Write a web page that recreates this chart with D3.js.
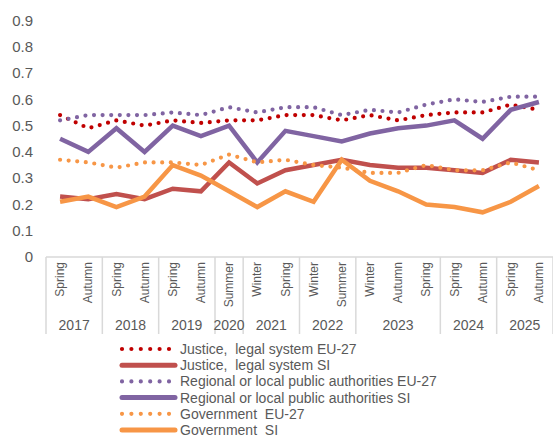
<!DOCTYPE html>
<html>
<head>
<meta charset="utf-8">
<script src="https://cdn.jsdelivr.net/npm/d3@7"></script>
<style>
  html, body { margin: 0; padding: 0; background: #fff; }
  svg { display: block; font-family: "Liberation Sans", Arial, sans-serif; }
</style>
</head>
<body>
<svg id="chart" width="553" height="438"></svg>
<script>
// ---- Data ----
const seasons = ["Spring","Autumn","Spring","Autumn","Spring","Autumn","Summer","Winter","Spring","Winter","Summer","Winter","Autumn","Spring","Spring","Autumn","Spring","Autumn"];
const years   = ["2017","2017","2018","2018","2019","2019","2020","2021","2021","2022","2022","2023","2023","2023","2024","2024","2025","2025"];

const justiceEU  = [0.54,0.49,0.52,0.50,0.52,0.51,0.52,0.52,0.54,0.54,0.52,0.54,0.52,0.54,0.55,0.55,0.58,0.56];
const justiceSI  = [0.23,0.22,0.24,0.22,0.26,0.25,0.36,0.28,0.33,0.35,0.37,0.35,0.34,0.34,0.33,0.32,0.37,0.36];
const regionalEU = [0.52,0.54,0.54,0.54,0.55,0.54,0.57,0.55,0.57,0.57,0.54,0.56,0.55,0.58,0.60,0.59,0.61,0.61];
const regionalSI = [0.45,0.40,0.49,0.40,0.50,0.46,0.50,0.36,0.48,0.46,0.44,0.47,0.49,0.50,0.52,0.45,0.56,0.59];
const govEU      = [0.37,0.36,0.34,0.36,0.36,0.35,0.39,0.36,0.37,0.35,0.34,0.32,0.32,0.35,0.33,0.33,0.36,0.33];
const govSI      = [0.21,0.23,0.19,0.23,0.35,0.31,0.25,0.19,0.25,0.21,0.37,0.29,0.25,0.20,0.19,0.17,0.21,0.27];

const yTicks = [0,0.1,0.2,0.3,0.4,0.5,0.6,0.7,0.8,0.9];

const seriesNames  = ["Justice,  legal system EU-27","Justice,  legal system SI","Regional or local public authorities EU-27","Regional or local public authorities SI","Government  EU-27","Government  SI"];
const seriesValues = [justiceEU, justiceSI, regionalEU, regionalSI, govEU, govSI];
const seriesColors = ["#C00000","#C0504D","#8064A2","#8064A2","#F79646","#F79646"];
const seriesDotted = [true,false,true,false,true,false];

// ---- Layout ----
const svg = d3.select("#chart");
const textColor = "#595959";
const axisColor = "#D9D9D9";
const plotLeft = 46, plotRight = 553, plotTop = 20.5, plotBottom = 257;

const idx = d3.range(seasons.length);
const x = d3.scaleBand().domain(idx).range([plotLeft, plotRight]);
const y = d3.scaleLinear().domain([0, 0.9]).range([plotBottom, plotTop]);

// Y axis (labels only)
const yAxis = d3.axisLeft(y).tickValues(yTicks).tickSize(0).tickPadding(13)
  .tickFormat(d => d === 0 ? "0" : d3.format(".1f")(d));
const gy = svg.append("g").attr("transform", `translate(${plotLeft},0)`).call(yAxis);
gy.select(".domain").remove();
gy.selectAll("text").attr("fill", textColor).style("font-size", "15px")
  .style("font-family", "'Liberation Sans', Arial, sans-serif");

// X axis frame
const axisBottom = 334;
svg.append("line").attr("x1", plotLeft).attr("x2", plotRight).attr("y1", plotBottom).attr("y2", plotBottom)
  .attr("stroke", axisColor).attr("stroke-width", 1.5);

// groups of years
const groups = [];
years.forEach((yr, i) => {
  if (!groups.length || groups[groups.length-1].year !== yr) groups.push({year: yr, start: i, end: i});
  else groups[groups.length-1].end = i;
});
const boundaries = [x(0)].concat(groups.map(g => x(g.end) + x.bandwidth()));
svg.selectAll("line.sep").data(boundaries).enter().append("line")
  .attr("class", "sep")
  .attr("x1", d => d).attr("x2", d => d)
  .attr("y1", plotBottom).attr("y2", axisBottom)
  .attr("stroke", axisColor).attr("stroke-width", 1.5);

// season labels
svg.selectAll("text.season").data(idx).enter().append("text")
  .attr("class", "season")
  .attr("transform", i => `translate(${x(i) + x.bandwidth()/2},${plotBottom + 5}) rotate(-90)`)
  .attr("dy", "0.35em")
  .attr("text-anchor", "end")
  .attr("fill", textColor)
  .style("font-size", "12px")
  .text(i => seasons[i]);

// year labels
svg.selectAll("text.year").data(groups).enter().append("text")
  .attr("class", "year")
  .attr("x", g => (x(g.start) + x(g.end) + x.bandwidth()) / 2)
  .attr("y", 330)
  .attr("text-anchor", "middle")
  .attr("fill", textColor)
  .style("font-size", "14px")
  .text(g => g.year);

// Lines
const line = d3.line().x((d, i) => x(i) + x.bandwidth()/2).y(d => y(d));
seriesValues.forEach((vals, s) => {
  const p = svg.append("path").datum(vals)
    .attr("d", line)
    .attr("fill", "none")
    .attr("stroke", seriesColors[s]);
  if (seriesDotted[s]) {
    p.attr("stroke-width", 4.2).attr("stroke-linecap", "round").attr("stroke-dasharray", "0,8.6");
  } else {
    p.attr("stroke-width", 4.5).attr("stroke-linejoin", "miter").attr("stroke-linecap", "butt");
  }
});

// Legend
const legY0 = 349, legStep = 16.2;
const leg = svg.append("g");
seriesNames.forEach((name, s) => {
  const yy = legY0 + s * legStep;
  const l = leg.append("line").attr("x1", 122).attr("x2", 175).attr("y1", yy).attr("y2", yy)
    .attr("stroke", seriesColors[s]);
  if (seriesDotted[s]) {
    l.attr("x2", 170).attr("stroke-width", 4.2).attr("stroke-linecap", "round").attr("stroke-dasharray", "0,9.4");
  } else {
    l.attr("stroke-width", 5).attr("stroke-linecap", "round");
  }
  leg.append("text").attr("x", 180).attr("y", yy).attr("dy", "0.35em")
    .attr("fill", textColor).style("font-size", "14px").style("white-space", "pre")
    .attr("xml:space", "preserve").text(name);
});
</script>
</body>
</html>
